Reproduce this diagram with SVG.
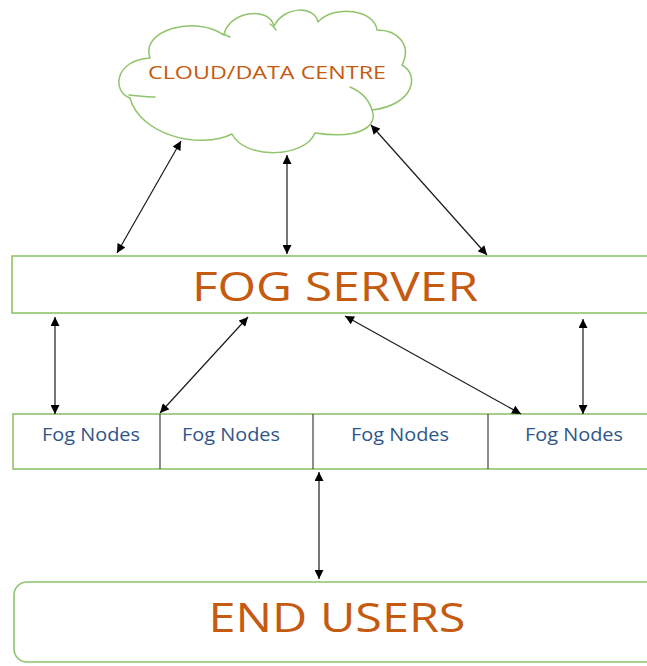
<svg xmlns="http://www.w3.org/2000/svg" width="647" height="666" viewBox="0 0 647 666">
  <style>
    .box { fill: #ffffff; stroke: #8fc46b; stroke-width: 1.6; }
    .cloud { fill: #ffffff; stroke: #8fc46b; stroke-width: 1.5; stroke-linejoin: round; }
    .inner { fill: none; stroke: #8fc46b; stroke-width: 1.5; stroke-linecap: round; }
    .divider { stroke: #404040; stroke-width: 1.2; }
    .title { font-family: "Open Sans", "Liberation Sans", sans-serif; fill: #c55a11; text-anchor: middle; }
    .node { font-family: "Open Sans", "Liberation Sans", sans-serif; fill: #2f5689; text-anchor: middle; font-size: 18px; }
    .link { stroke: #1a1a1a; stroke-width: 1.2; fill: none; marker-start: url(#head); marker-end: url(#head); }
  </style>
  <defs>
    <marker id="head" viewBox="0 0 10 10" refX="10" refY="5" markerWidth="10" markerHeight="9" markerUnits="userSpaceOnUse" orient="auto-start-reverse">
      <path d="M0,0 L10,5 L0,10 z" fill="#000000"/>
    </marker>
  </defs>

  <rect width="647" height="666" fill="#ffffff"/>

  <!-- cloud / data centre -->
  <g id="cloud">
    <path class="cloud" d="M150,58 C140,30 195,15 224,35 C228,12 268,5 274,26 C285,5 315,6 318,22 C335,4 375,10 377,30 C398,30 412,45 402,65 C420,75 414,105 372,110 C378,125 362,140 315,133 C305,158 245,160 232,134 C200,150 140,135 130,98 C112,92 114,60 150,58 z"/>
    <path class="inner" d="M129,95 C140,96 150,97 155,97"/>
    <path class="inner" d="M350,87 C362,92 369,100 372,110"/>
    <path class="inner" d="M222,34 C226,35 228,36 230,37"/>
    <path class="inner" d="M270,24 C273,26 275,28 276,30"/>
    <text class="title" x="267" y="79" font-size="19" textLength="238" lengthAdjust="spacingAndGlyphs">CLOUD/DATA CENTRE</text>
  </g>

  <!-- fog server -->
  <g id="fog-server">
    <rect class="box" x="12" y="256" width="700" height="57"/>
    <text class="title" x="335" y="301" font-size="40" textLength="286" lengthAdjust="spacingAndGlyphs">FOG SERVER</text>
  </g>

  <!-- fog nodes row -->
  <g id="fog-nodes">
    <rect class="box" x="13" y="414" width="700" height="55"/>
    <line class="divider" x1="160" y1="414" x2="160" y2="469"/>
    <line class="divider" x1="313" y1="414" x2="313" y2="469"/>
    <line class="divider" x1="488" y1="414" x2="488" y2="469"/>
    <text class="node" x="91" y="441" textLength="98" lengthAdjust="spacingAndGlyphs">Fog Nodes</text>
    <text class="node" x="231" y="441" textLength="98" lengthAdjust="spacingAndGlyphs">Fog Nodes</text>
    <text class="node" x="400" y="441" textLength="98" lengthAdjust="spacingAndGlyphs">Fog Nodes</text>
    <text class="node" x="574" y="441" textLength="98" lengthAdjust="spacingAndGlyphs">Fog Nodes</text>
  </g>

  <!-- end users -->
  <g id="end-users">
    <rect class="box" x="14" y="582" width="720" height="80" rx="13" ry="13"/>
    <text class="title" x="337" y="632" font-size="40" textLength="257" lengthAdjust="spacingAndGlyphs">END USERS</text>
  </g>

  <!-- connectors -->
  <g id="connectors">
    <line class="link" x1="117" y1="253" x2="181" y2="141"/>
    <line class="link" x1="287" y1="254" x2="287" y2="155"/>
    <line class="link" x1="487" y1="255" x2="371" y2="125"/>
    <line class="link" x1="55" y1="317" x2="55" y2="414"/>
    <line class="link" x1="248" y1="317" x2="160" y2="413"/>
    <line class="link" x1="345" y1="316" x2="521" y2="414"/>
    <line class="link" x1="583" y1="319" x2="583" y2="414"/>
    <line class="link" x1="319" y1="472" x2="319" y2="579"/>
  </g>
</svg>
